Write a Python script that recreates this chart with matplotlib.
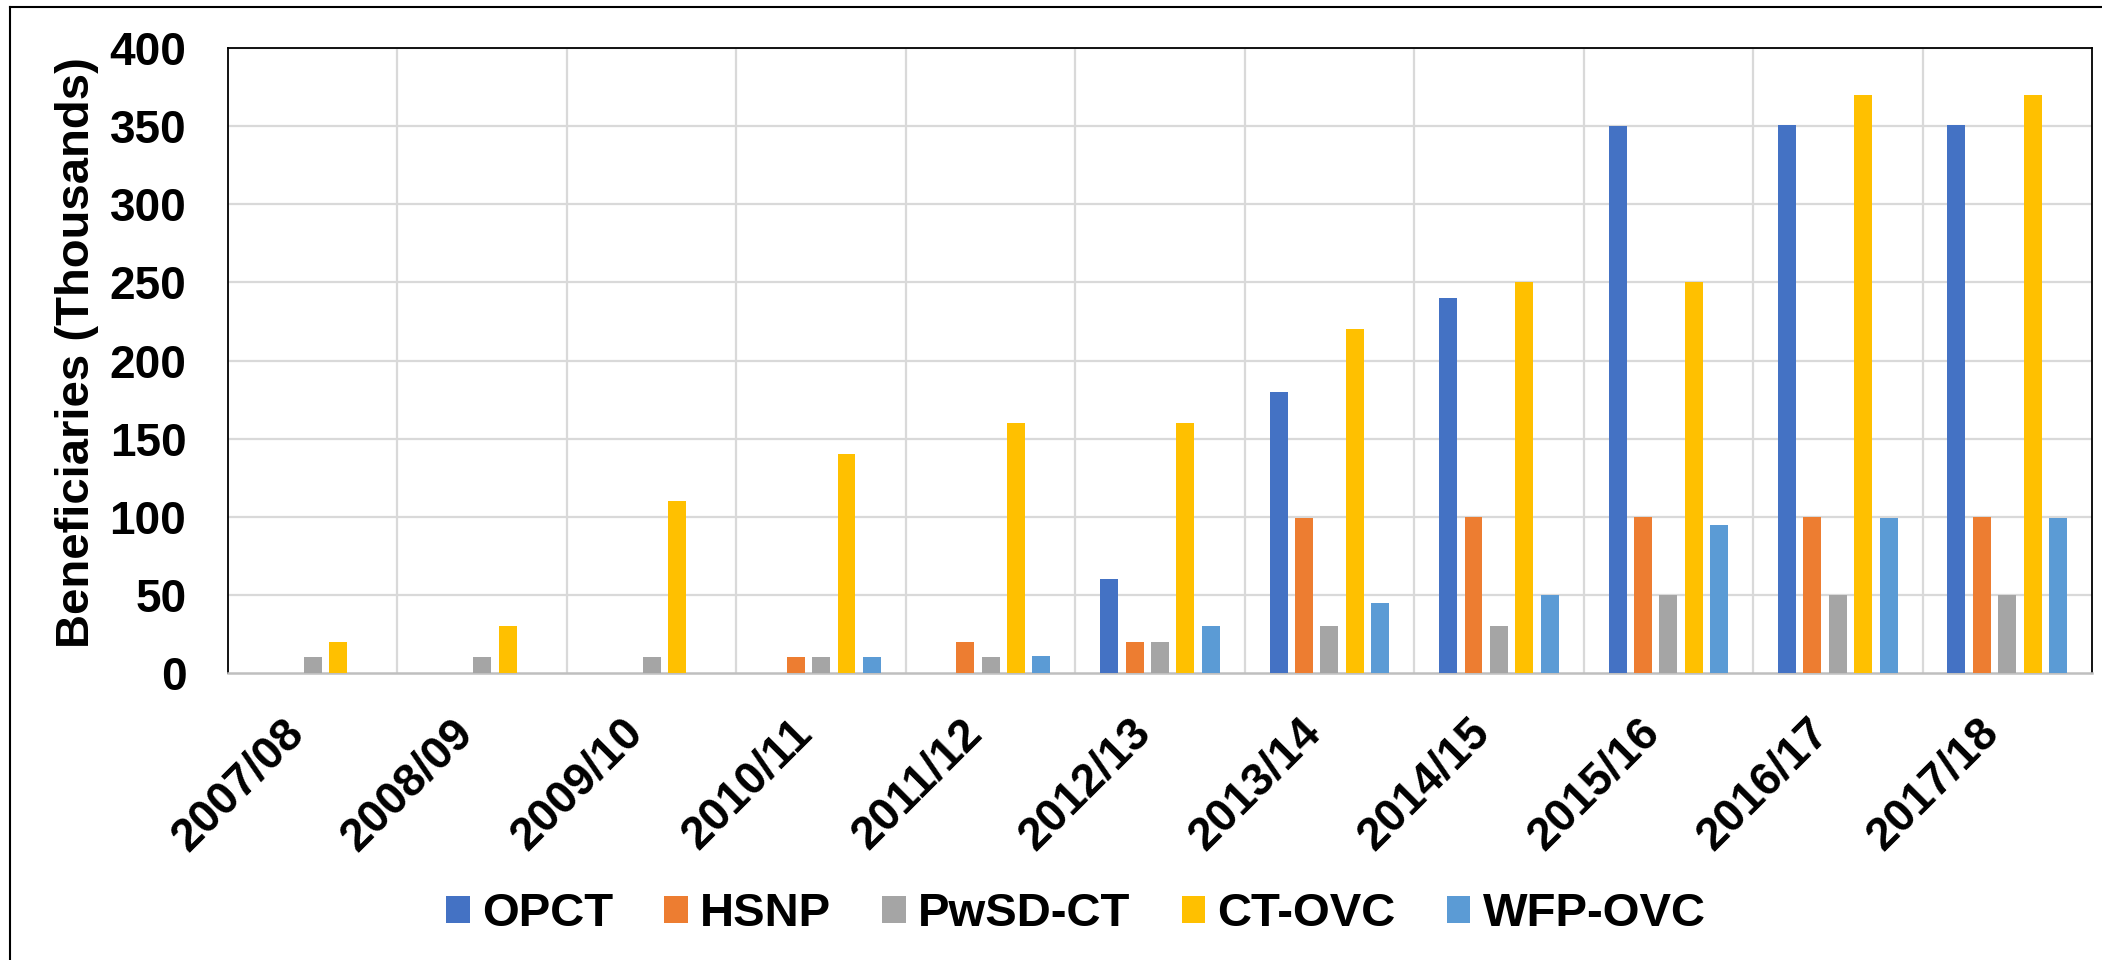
import numpy as np
import matplotlib.pyplot as plt
from matplotlib.lines import Line2D
from matplotlib.transforms import ScaledTranslation

plt.rcParams['font.family'] = ['Liberation Sans', 'DejaVu Sans']
plt.rcParams['font.weight'] = 'bold'

years = ["2007/08", "2008/09", "2009/10", "2010/11", "2011/12", "2012/13",
         "2013/14", "2014/15", "2015/16", "2016/17", "2017/18"]
opct = [0, 0, 0, 0, 0, 60, 180, 240, 350, 351, 351]
hsnp = [0, 0, 0, 10, 20, 20, 99, 100, 100, 100, 100]
pwsd_ct = [10, 10, 10, 10, 10, 20, 30, 30, 50, 50, 50]
ct_ovc = [20, 30, 110, 140, 160, 160, 220, 250, 250, 370, 370]
wfp_ovc = [0, 0, 0, 10, 11, 30, 45, 50, 95, 99, 99]

series = [("OPCT", opct, "#4472C4"),
          ("HSNP", hsnp, "#ED7D31"),
          ("PwSD-CT", pwsd_ct, "#A5A5A5"),
          ("CT-OVC", ct_ovc, "#FFC000"),
          ("WFP-OVC", wfp_ovc, "#5B9BD5")]

W, H = 2102, 960
fig = plt.figure(figsize=(W / 100, H / 100), dpi=100)
ax = fig.add_axes([228 / W, 1 - 673 / H, (2092 - 228) / W, (673 - 48) / H])

x = np.arange(len(years))
step, bw = 0.15, 0.106
for i, (name, vals, col) in enumerate(series):
    ax.bar(x + (i - 2) * step, vals, width=bw, color=col, label=name, zorder=3)

ax.set_xlim(-0.5, len(years) - 0.5)
ax.set_ylim(0, 400)
ax.set_yticks(np.arange(0, 401, 50))
ax.set_xticks(x)
ax.set_xticklabels(years, rotation=45, ha='right', fontsize=33, fontweight='bold')
for lab in ax.get_xticklabels():
    lab.set_transform(lab.get_transform() + ScaledTranslation(0.07, 0, fig.dpi_scale_trans))
ax.tick_params(axis='x', length=0, pad=27)
ax.tick_params(axis='y', length=0, pad=30, labelsize=33)
for lab in ax.get_yticklabels():
    lab.set_fontweight('bold')

# grid: horizontal at ticks, vertical at category boundaries
for yv in np.arange(50, 401, 50):
    ax.axhline(yv, color='#d9d9d9', lw=1.6, zorder=1)
for xv in np.arange(0.5, len(years) - 0.5, 1):
    ax.axvline(xv, color='#d9d9d9', lw=1.6, zorder=1)

for s in ['left', 'top', 'right']:
    ax.spines[s].set_color('black')
    ax.spines[s].set_linewidth(1.3)
ax.spines['bottom'].set_color('#bfbfbf')
ax.spines['bottom'].set_linewidth(1.8)

fig.text(77 / W, 1 - 353 / H, "Beneficiaries (Thousands)", rotation=90,
         ha='center', va='center', fontsize=34, fontweight='bold')

fig.legend(loc='center', bbox_to_anchor=(1076 / W, 1 - 914 / H), ncol=5,
           frameon=False, prop={'size': 34, 'weight': 'bold'},
           handlelength=0.5, handleheight=0.5, handletextpad=0.26,
           columnspacing=1.08, borderaxespad=0)

# outer frame (left and top edges)
fig.add_artist(Line2D([10 / W, 10 / W], [0, 1 - 7 / H], transform=fig.transFigure,
                      color='black', lw=1.5))
fig.add_artist(Line2D([10 / W, 1], [1 - 7 / H, 1 - 7 / H], transform=fig.transFigure,
                      color='black', lw=1.5))

fig.savefig("out.png", dpi=100)
